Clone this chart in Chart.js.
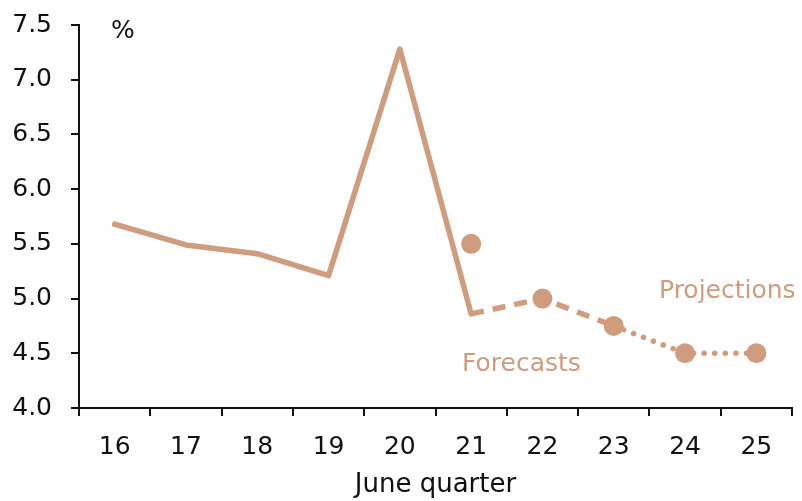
<!DOCTYPE html>
<html><head><meta charset="utf-8">
<script src="https://cdn.jsdelivr.net/npm/chart.js@4/dist/chart.umd.min.js"></script>
<style>html,body{margin:0;padding:0;background:#fff}#wrap{width:802px;height:501px}</style>
</head><body><div id="wrap"><canvas id="c"></canvas></div>
<script>
const categories = ['16','17','18','19','20','21','22','23','24','25'];
const actual =      [5.68, 5.49, 5.41, 5.21, 7.28, 4.86, null, null, null, null];
const forecastLine = [null, null, null, null, null, 4.86, 5.0, 4.75, null, null];
const projectionLine = [null, null, null, null, null, null, null, 4.75, 4.5, 4.5];
const forecastDots = [null, null, null, null, null, 5.5, 5.0, 4.75, 4.5, 4.5];
const yTicks = [4.0, 4.5, 5.0, 5.5, 6.0, 6.5, 7.0, 7.5];

const COL = '#D09C7E';
const FONT = 'DejaVu Sans';

const textPlugin = {
  id: 'texts',
  afterDraw(chart) {
    const ctx = chart.ctx;
    const a = chart.chartArea;
    ctx.save();
    ctx.font = '25px "' + FONT + '"';
    ctx.fillStyle = '#111';
    ctx.textAlign = 'left';
    ctx.textBaseline = 'middle';
    ctx.fillText('%', a.left + 32, 31);
    ctx.fillStyle = COL;
    ctx.fillText('Forecasts', 462, 364);
    ctx.fillText('Projections', 659, 291);
    ctx.restore();
  }
};

new Chart(document.getElementById('c'), {
  type: 'line',
  data: {
    labels: categories,
    datasets: [
      { data: actual, borderColor: COL, borderWidth: 5.5, pointRadius: 0, tension: 0, borderJoinStyle: 'round', borderCapStyle: 'round' },
      { data: forecastLine, borderColor: COL, borderWidth: 5.5, pointRadius: 0, borderDash: [13, 9] },
      { data: projectionLine, borderColor: COL, borderWidth: 5.5, pointRadius: 0, borderDash: [0.1, 10.5], borderCapStyle: 'round' },
      { data: forecastDots, showLine: false, pointRadius: 10, pointBackgroundColor: COL, pointBorderWidth: 0, borderColor: COL }
    ]
  },
  options: {
    responsive: true,
    maintainAspectRatio: false,
    animation: false,
    layout: { padding: { top: 25, right: -4, left: 0, bottom: 0 } },
    plugins: { legend: { display: false }, tooltip: { enabled: false } },
    scales: {
      x: {
        type: 'category',
        offset: true,
        grid: { offset: true, drawOnChartArea: false, drawTicks: true, tickLength: 8, color: '#111', lineWidth: 2 },
        border: { color: '#111', width: 2 },
        ticks: { color: '#111', font: { family: FONT, size: 25 }, padding: 16, maxRotation: 0 },
        title: { display: true, text: 'June quarter', color: '#111', font: { family: FONT, size: 26 }, padding: { top: 9, bottom: 0 } },
        afterFit(s) { s.height = 93; s.paddingLeft = 0; s.paddingRight = 0; }
      },
      y: {
        min: 4, max: 7.5,
        afterBuildTicks(s) { s.ticks = yTicks.map(v => ({ value: v })); },
        grid: { drawOnChartArea: false, drawTicks: true, tickLength: 8, color: '#111', lineWidth: 2 },
        border: { color: '#111', width: 2 },
        ticks: { color: '#111', font: { family: FONT, size: 25 }, padding: 19, callback: v => Number(v).toFixed(1) },
        afterFit(s) { s.width = 79; s.paddingTop = 0; s.paddingBottom = 0; }
      }
    }
  },
  plugins: [textPlugin]
});
</script>
</body></html>
